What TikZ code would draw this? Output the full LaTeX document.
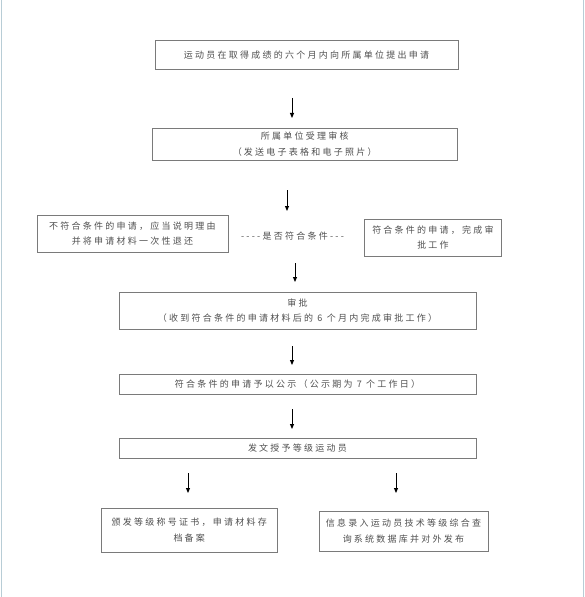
\documentclass[tikz,border=0pt]{standalone}
\usepackage{fontspec}
\newfontfamily\cjk[LetterSpace=25]{Noto Sans CJK SC}
\usetikzlibrary{arrows.meta}
\definecolor{framecol}{HTML}{B8CDD6}
\definecolor{boxcol}{HTML}{7A7A7A}
\definecolor{txtcol}{HTML}{505050}
\tikzset{
  box/.style={draw=boxcol, line width=0.9bp, rectangle, inner sep=0pt, align=center,
    font=\cjk\fontsize{9bp}{15.5bp}\selectfont, text=txtcol},
  lbl/.style={inner sep=0pt, align=center, font=\cjk\fontsize{9bp}{15.5bp}\selectfont, text=txtcol},
  arr/.style={line width=0.9bp, black, -{Triangle[length=5bp,width=4bp]}},
}
\begin{document}
\begin{tikzpicture}[x=1bp,y=-1bp]
\useasboundingbox (0,0) rectangle (585,597);
\fill[white] (0,0) rectangle (585,597);
\draw[framecol, line width=1bp] (1.5,0) -- (1.5,597);
\draw[framecol, line width=1bp] (583.5,0) -- (583.5,597);

\node[box, minimum width=303bp, minimum height=29bp] (b1) at (306.5,55) {运动员在取得成绩的六个月内向所属单位提出申请};
\node[box, minimum width=304.5bp, minimum height=32bp] (b2) at (304.75,144) {所属单位受理审核\\（发送电子表格和电子照片）};
\node[box, minimum width=191bp, minimum height=37bp] (bno) at (132.5,233.5) {不符合条件的申请，应当说明理由\\并将申请材料一次性退还};
\node[lbl] (q) at (292.5,236) {----是否符合条件---};
\node[box, minimum width=137bp, minimum height=37bp] (byes) at (433,237.5) {符合条件的申请，完成审\\批工作};
\node[box, minimum width=357bp, minimum height=37.5bp] (b3) at (297.5,310.75) {审批\\（收到符合条件的申请材料后的 6 个月内完成审批工作）};
\node[box, minimum width=357bp, minimum height=20bp] (b4) at (297.5,384) {符合条件的申请予以公示（公示期为 7 个工作日）};
\node[box, minimum width=357bp, minimum height=20bp] (b5) at (297.5,448) {发文授予等级运动员};
\node[box, minimum width=175.5bp, minimum height=43.5bp] (bl) at (189.25,530.25) {颁发等级称号证书，申请材料存\\档备案};
\node[box, minimum width=169bp, minimum height=39.5bp] (br) at (403.5,531.25) {信息录入运动员技术等级综合查\\询系统数据库并对外发布};

\coordinate (a1s) at (292,98);  \coordinate (a1e) at (292,118);
\coordinate (a2s) at (287,190); \coordinate (a2e) at (287,211);
\coordinate (a3s) at (295,263); \coordinate (a3e) at (295,282);
\coordinate (a4s) at (292,346); \coordinate (a4e) at (292,365);
\coordinate (a5s) at (292,409); \coordinate (a5e) at (292,429);
\coordinate (a6s) at (188,473); \coordinate (a6e) at (188,493);
\coordinate (a7s) at (396,473); \coordinate (a7e) at (396,493);
\foreach \i in {1,...,7} { \draw[arr] (a\i s) -- (a\i e); }
\end{tikzpicture}
\end{document}
